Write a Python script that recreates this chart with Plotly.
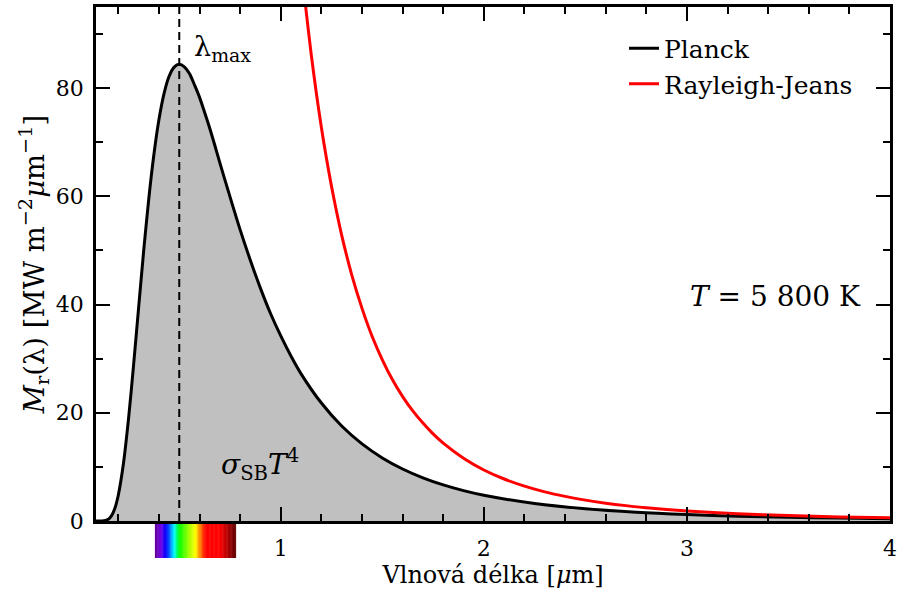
import plotly.graph_objects as go

# Planck spectral exitance (T = 5800 K)
planck_wl = [0.09, 0.10, 0.12, 0.125, 0.135, 0.14, 0.15, 0.16, 0.165, 0.175, 0.185, 0.19,
             0.2, 0.225, 0.25, 0.275, 0.3, 0.325, 0.35, 0.375, 0.4, 0.425, 0.45, 0.475,
             0.5, 0.525, 0.55, 0.575, 0.6, 0.625, 0.65, 0.675, 0.7, 0.75, 0.8,
             0.85, 0.9, 0.95, 1.0, 1.05, 1.1, 1.2, 1.3, 1.4, 1.5, 1.6, 1.7, 1.8, 1.9, 2.0,
             2.25, 2.5, 2.75, 3.0, 3.25, 3.5, 3.75, 4.0]
planck_M = [0.0, 0.0006, 0.016, 0.0295, 0.087, 0.140, 0.32, 0.66, 0.90, 1.59, 2.59, 3.23,
            4.80, 10.58, 18.82, 28.79, 39.5, 50.0, 59.6, 67.7, 74.2, 79.0, 82.2, 83.9,
            84.4, 83.95, 82.7, 80.6, 78.3, 75.5, 72.6, 69.45, 66.2, 59.9, 53.8,
            48.2, 43.0, 38.3, 34.2, 30.5, 27.2, 21.8, 17.55, 14.25, 11.66, 9.61, 7.98, 6.67, 5.62, 4.76,
            3.23, 2.26, 1.62, 1.20, 0.90, 0.69, 0.54, 0.43]

# Rayleigh-Jeans curve
rj_wl = [1.1, 1.125, 1.15, 1.175, 1.2, 1.225, 1.25, 1.275, 1.3, 1.35, 1.4, 1.45, 1.5, 1.55,
         1.6, 1.65, 1.7, 1.75, 1.8, 1.9, 2.0, 2.1, 2.2, 2.3, 2.4, 2.5, 2.6, 2.7,
         2.8, 3.0, 3.25, 3.5, 3.75, 4.0]
rj_M = [103.0, 94.2, 86.2, 79.1, 72.7, 67.0, 61.8, 57.1, 52.8, 45.4, 39.3, 34.1, 29.8, 26.1,
        23.0, 20.35, 18.1, 16.1, 14.4, 11.6, 9.43, 7.76, 6.44, 5.39, 4.55, 3.86, 3.30, 2.84,
        2.45, 1.86, 1.35, 1.01, 0.76, 0.59]

lambda_max = 0.5
y_top = 95

x_ticks = [1, 2, 3, 4]
y_ticks = [0, 20, 40, 60, 80]

# visible spectrum colour stops (wavelength in um, rgb)
spec_wl = [0.38, 0.41, 0.435, 0.46, 0.475, 0.50, 0.55, 0.58, 0.60, 0.63, 0.70, 0.78]
spec_rgb = [(100, 0, 150), (110, 0, 230), (0, 0, 255), (0, 150, 255), (0, 255, 255),
            (0, 255, 0), (170, 255, 0), (255, 255, 0), (255, 140, 0), (255, 0, 0),
            (255, 0, 0), (90, 0, 0)]

FONT = "DejaVu Serif"

fig = go.Figure()

# grey area under the Planck curve
fig.add_trace(go.Scatter(
    x=planck_wl, y=planck_M, mode="none", showlegend=False, hoverinfo="skip",
    line=dict(shape="spline", smoothing=0.8),
    fill="tozeroy", fillcolor="#c0c0c0"))

fig.add_trace(go.Scatter(
    x=[lambda_max, lambda_max], y=[0, y_top], mode="lines", showlegend=False,
    line=dict(color="black", width=2, dash="8px,5px")))

fig.add_trace(go.Scatter(
    x=planck_wl, y=planck_M, mode="lines", name="Planck",
    line=dict(color="black", width=3, shape="spline", smoothing=0.8),
    legendgroup="a"))

fig.add_trace(go.Scatter(
    x=rj_wl, y=rj_M, mode="lines", name="Rayleigh-Jeans",
    line=dict(color="#ff0000", width=3, shape="spline", smoothing=0.8),
    legendgroup="b"))

# spectrum bar under the axis
def interp_color(w):
    for i in range(len(spec_wl) - 1):
        if spec_wl[i] <= w <= spec_wl[i + 1]:
            t = (w - spec_wl[i]) / (spec_wl[i + 1] - spec_wl[i])
            c = [round(a + (b - a) * t) for a, b in zip(spec_rgb[i], spec_rgb[i + 1])]
            return "rgb(%d,%d,%d)" % tuple(c)
    return "rgb(%d,%d,%d)" % spec_rgb[-1]

n = 100
w0, w1 = spec_wl[0], spec_wl[-1]
step = (w1 - w0) / n
shapes = []
for i in range(n):
    a = w0 + i * step
    b = min(a + step * 1.6, w1)
    shapes.append(dict(type="rect", xref="x", yref="paper", x0=a, x1=b,
                       y0=-0.072, y1=0, fillcolor=interp_color(a + step / 2),
                       line=dict(width=0), layer="below"))

fig.update_layout(
    width=897, height=598,
    margin=dict(l=96, r=7, t=7, b=77, autoexpand=False),
    paper_bgcolor="white", plot_bgcolor="white",
    font=dict(family=FONT, size=20, color="black"),
    shapes=shapes,
    showlegend=True,
    legend=dict(x=0.665, y=0.964, xanchor="left", yanchor="top",
                bgcolor="rgba(0,0,0,0)", font=dict(size=25, family=FONT),
                tracegroupgap=8, traceorder="normal"),
    annotations=[
        dict(x=0.565, y=87.3, xref="x", yref="y", text="λ<sub>max</sub>",
             showarrow=False, xanchor="left", yanchor="middle", font=dict(size=27)),
        dict(x=3.435, y=41.5, xref="x", yref="y", text="<i>T</i> = 5 800 K",
             showarrow=False, xanchor="center", yanchor="middle", font=dict(size=28)),
        dict(x=0.9, y=10.5, xref="x", yref="y", text="<i>σ</i><sub>SB</sub><i>T</i><sup>4</sup>",
             showarrow=False, xanchor="center", yanchor="middle", font=dict(size=28)),
    ],
)

fig.update_xaxes(
    range=[0.09, 4], tickvals=x_ticks, ticktext=[str(v) for v in x_ticks],
    ticks="inside", ticklen=14, tickwidth=2, tickcolor="black",
    showline=True, linewidth=2.5, linecolor="black", mirror="ticks",
    showgrid=False, zeroline=False, tickfont=dict(size=22), automargin=False,
    minor=dict(dtick=0.2, tick0=0, ticks="inside", ticklen=7, tickwidth=2, tickcolor="black", showgrid=False),
    title=dict(text="Vlnová délka [<i>μ</i>m]", font=dict(size=24), standoff=6),
    ticklabelstandoff=6,
)
fig.update_yaxes(
    range=[0, y_top], tickvals=y_ticks, ticktext=[str(v) for v in y_ticks],
    ticks="inside", ticklen=14, tickwidth=2, tickcolor="black",
    showline=True, linewidth=2.5, linecolor="black", mirror="ticks",
    showgrid=False, zeroline=False, tickfont=dict(size=22), automargin=False,
    minor=dict(dtick=10, tick0=0, ticks="inside", ticklen=7, tickwidth=2, tickcolor="black", showgrid=False),
    title=dict(text="<i>M</i><sub>r</sub>(λ) [MW m<sup>−2</sup><i>μ</i>m<sup>−1</sup>]",
               font=dict(size=27.5), standoff=4),
    ticklabelstandoff=5,
)

fig.write_html("out.html")
